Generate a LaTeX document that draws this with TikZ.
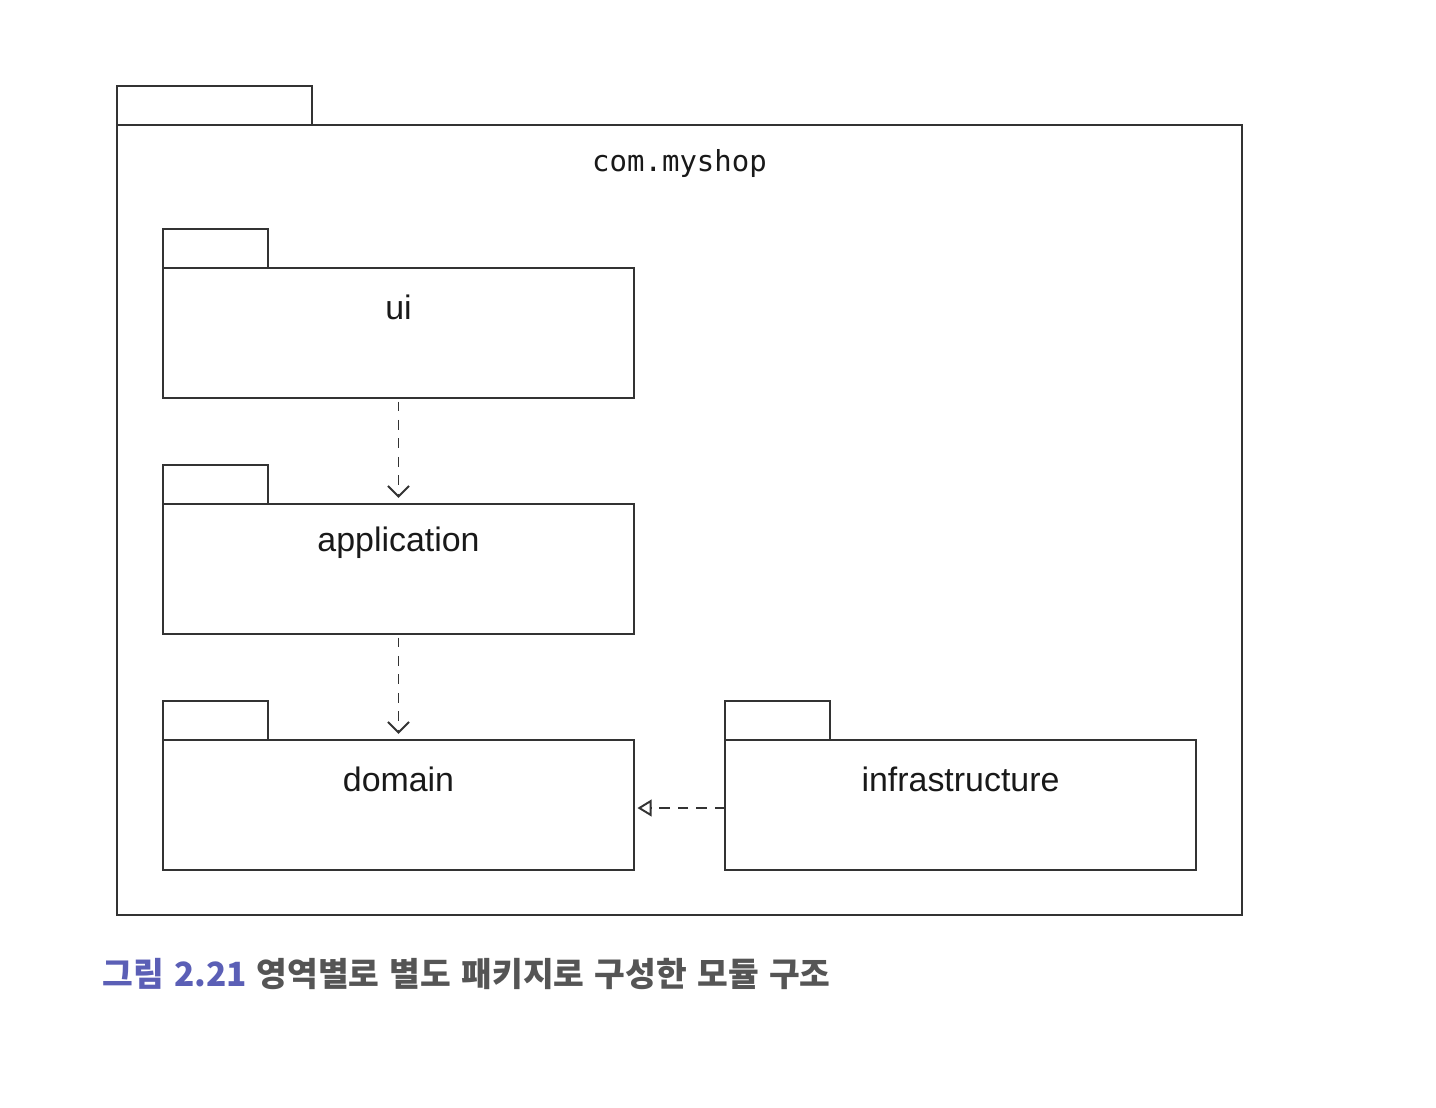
\documentclass[tikz,border=0pt]{standalone}
\usepackage{fontspec}
\setmainfont{Liberation Sans}
\newfontfamily\pkgmono{DejaVu Sans Mono}
\newfontfamily\krfont{Noto Sans CJK KR}[WordSpace=1.35]
\usetikzlibrary{
  arrows.meta,
  positioning
}
\definecolor{linegray}{HTML}{333333}
\definecolor{capblue}{HTML}{5B5FB6}
\definecolor{capgray}{HTML}{555555}
\tikzset{
  pkgline/.style={draw=linegray, line width=1.2pt},
  pkgbody/.style={pkgline, minimum width=9.42cm, minimum height=2.6cm,
    inner sep=0pt, outer sep=0pt},
  pkgname/.style={font=\fontsize{19.3}{23}\selectfont, text=black!90},
  depends/.style={draw=linegray, line width=0.9pt, dash pattern=on 5.5pt off 5pt,
    -{Straight Barb[length=6pt,width=12pt,line width=1.1pt]}},
  realizes/.style={draw=linegray, line width=0.9pt, dash pattern=on 6pt off 4.5pt,
    -{Triangle[open,length=8pt,width=9.5pt,line width=1.1pt]}}
}

\begin{document}
\begin{tikzpicture}[x=0.02cm,y=-0.02cm]
  \useasboundingbox (0,0) rectangle (1436,1108);
  % outer package
  \node[pkgline, minimum width=22.5cm, minimum height=15.8cm, inner sep=0pt,
    outer sep=0pt] (shop) at (679.5,520) {};
  \draw[pkgline] (shop.north west) rectangle ++(195,-39);
  \node[font=\pkgmono\fontsize{16.5}{20}\selectfont, text=black!90]
    (shopname) at ([yshift=-0.76cm]shop.north) {com.myshop};

  % inner packages
  \node[pkgbody] (ui) at (398.5,333) {};
  \node[pkgbody] (app) at (398.5,569) {};
  \node[pkgbody] (dom) at (398.5,805) {};
  \node[pkgbody] (infra) at (960.5,805) {};
  \foreach \p in {ui,app,dom,infra}
    \draw[pkgline] (\p.north west) rectangle ++(105,-39);

  \node[pkgname] (uiname) at ([yshift=-0.78cm]ui.north) {ui};
  \node[pkgname] (appname) at ([yshift=-0.78cm]app.north) {application};
  \node[pkgname] (domname) at ([yshift=-0.78cm]dom.north) {domain};
  \node[pkgname] (infraname) at ([yshift=-0.78cm]infra.north) {infrastructure};

  % dependencies
  \draw[depends, shorten <=2pt, shorten >=3.5pt] (ui.south) -- (app.north);
  \draw[depends, shorten <=2pt, shorten >=3.5pt] (app.south) -- (dom.north);
  \draw[realizes, shorten >=2pt] ([yshift=-0.06cm]infra.west) -- ([yshift=-0.06cm]dom.east);

  % caption
  \node[anchor=base west, inner sep=0pt, font=\krfont\bfseries\fontsize{19}{23}\selectfont]
    (caption) at (102,986)
    {\textcolor{capblue}{그림 2.21}\hspace{0.3em}\textcolor{capgray}{영역별로 별도 패키지로 구성한 모듈 구조}};
\end{tikzpicture}
\end{document}
